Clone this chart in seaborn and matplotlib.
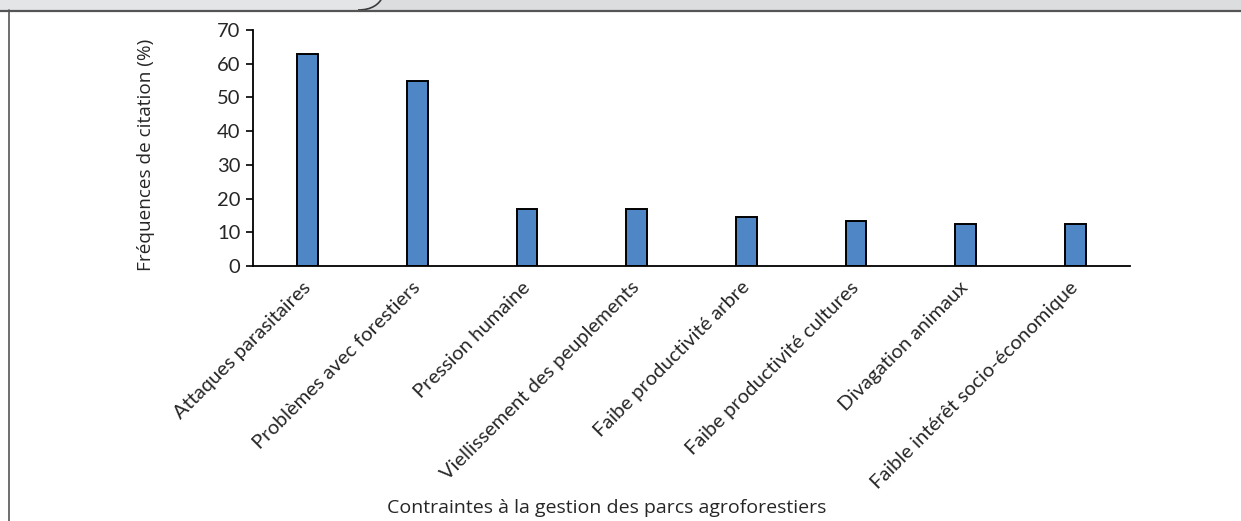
import matplotlib
matplotlib.use("Agg")
import matplotlib.pyplot as plt
import matplotlib.transforms as mtransforms
import seaborn as sns
import pandas as pd
from matplotlib.patches import Rectangle, PathPatch
from matplotlib.path import Path
from matplotlib.lines import Line2D

categories = [
    "Attaques parasitaires",
    "Problèmes avec forestiers",
    "Pression humaine",
    "Viellissement des peuplements",
    "Faibe productivité arbre",
    "Faibe productivité cultures",
    "Divagation animaux",
    "Faible intérêt socio-économique",
]
frequencies = [62.9, 55.0, 16.9, 16.9, 14.6, 13.4, 12.4, 12.4]
y_ticks = [0, 10, 20, 30, 40, 50, 60, 70]

df = pd.DataFrame({"contrainte": categories, "freq": frequencies})

sns.set_theme(style="white")
plt.rcParams["font.family"] = ["Lato", "DejaVu Sans"]

W, H = 1241, 521
fig = plt.figure(figsize=(W / 100, H / 100), dpi=100)
ax = fig.add_axes([253 / W, 1 - 266 / H, (1130 - 253) / W, (266 - 30) / H])

sns.barplot(data=df, x="contrainte", y="freq", ax=ax, color="#4F87C6",
            saturation=1, width=0.19, edgecolor="black", linewidth=1.4)

ax.set_ylim(0, 70)
ax.set_xlim(-0.5, len(categories) - 0.5)
ax.set_yticks(y_ticks)
ax.set_yticklabels([str(t) for t in y_ticks], fontsize=14.5)
ax.tick_params(axis="y", direction="out", length=5, width=1.2, color="black", pad=4,
               left=True)
ax.tick_params(axis="x", length=0, pad=9)
ax.set_xticks(range(len(categories)))
ax.set_xticklabels(categories, rotation=45, ha="right", va="top",
                   rotation_mode="anchor", fontsize=14.5)
shift = mtransforms.ScaledTranslation(-6 / 100, 0, fig.dpi_scale_trans)
for lab in ax.get_xticklabels():
    lab.set_transform(lab.get_transform() + shift)

for side in ("top", "right"):
    ax.spines[side].set_visible(False)
for side in ("left", "bottom"):
    ax.spines[side].set_color("black")
    ax.spines[side].set_linewidth(1.3)

label_font = ["Open Sans", "DejaVu Sans"]
ax.set_ylabel("Fréquences de citation (%)", fontsize=13.7, family=label_font)
ax.yaxis.set_label_coords((146 - 253) / (1130 - 253), (266 - 155) / (266 - 30))
ax.yaxis.label.set_va("center")
ax.set_xlabel("Contraintes à la gestion des parcs agroforestiers", fontsize=14,
              family=label_font)
ax.xaxis.set_label_coords((607 - 253) / (1130 - 253), -(508 - 266) / (266 - 30))
ax.xaxis.label.set_va("center")

# page frame: grey header band with a rounded tab and a left rule
def fx(px):
    return px / W

def fy(py):
    return 1 - py / H

fig.add_artist(Rectangle((0, fy(10)), 1, fy(0) - fy(10), transform=fig.transFigure,
                         facecolor="#dcdddf", edgecolor="none", zorder=0))
tab = Path(
    [(fx(0), fy(-2)), (fx(0), fy(10)), (fx(358), fy(10)),
     (fx(372), fy(10)), (fx(379), fy(4)), (fx(382), fy(-2)), (fx(0), fy(-2))],
    [Path.MOVETO, Path.LINETO, Path.LINETO,
     Path.CURVE4, Path.CURVE4, Path.CURVE4, Path.CLOSEPOLY],
)
fig.add_artist(PathPatch(tab, transform=fig.transFigure, facecolor="#e4e5e7",
                         edgecolor="none", zorder=1))
edge = Path(
    [(fx(358), fy(10)), (fx(372), fy(10)), (fx(379), fy(4)), (fx(382), fy(-2))],
    [Path.MOVETO, Path.CURVE4, Path.CURVE4, Path.CURVE4],
)
fig.add_artist(PathPatch(edge, transform=fig.transFigure, facecolor="none",
                         edgecolor="#3a3a3a", linewidth=1.2, zorder=2))
fig.add_artist(Line2D([0, 1], [fy(10.5), fy(10.5)], transform=fig.transFigure,
                      color="#555555", linewidth=1.6, zorder=2))
fig.add_artist(Line2D([fx(9), fx(9)], [fy(10), 0], transform=fig.transFigure,
                      color="#555555", linewidth=1.2, zorder=2))

fig.savefig("out.png", dpi=100, facecolor="white")
